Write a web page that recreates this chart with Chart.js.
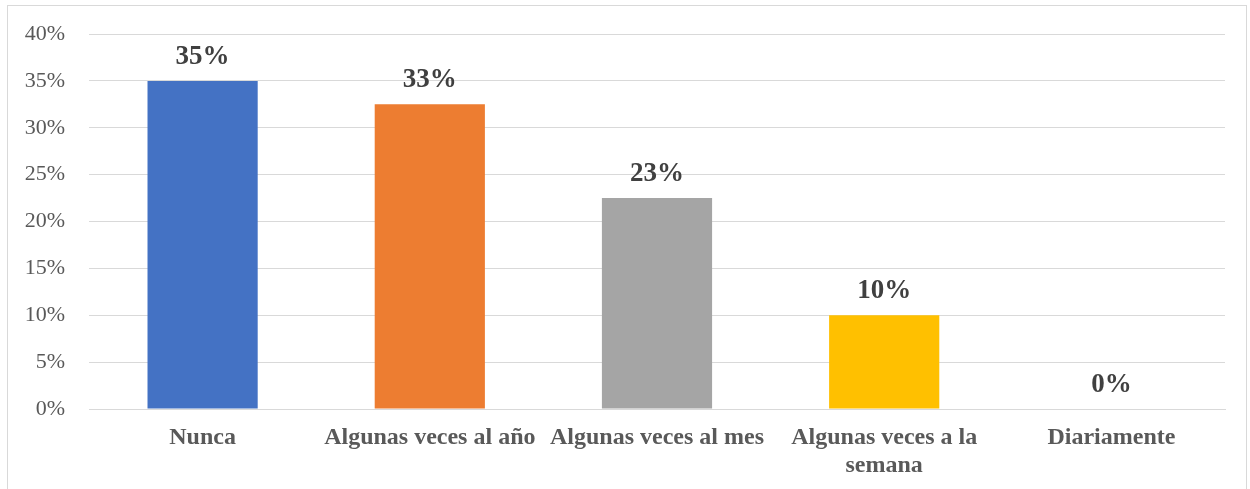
<!DOCTYPE html>
<html>
<head>
<meta charset="utf-8">
<script src="https://cdn.jsdelivr.net/npm/chart.js@4/dist/chart.umd.min.js"></script>
<style>
body{margin:0;background:#fff;}
#wrap{position:absolute;left:0;top:0;width:1250px;height:489px;}
#frame{position:absolute;left:7px;top:5px;width:1240px;height:490px;border:1px solid #d9d9d9;box-sizing:border-box;pointer-events:none;}
</style>
</head>
<body>
<div id="wrap"><canvas id="freqChart" width="1250" height="489"></canvas></div>
<div id="frame"></div>
<script>
const categories = ["Nunca", "Algunas veces al año", "Algunas veces al mes", ["Algunas veces a la", "semana"], "Diariamente"];
const percentValues = [35, 32.5, 22.5, 10, 0];
const barColors = ["#4472C4", "#ED7D31", "#A5A5A5", "#FFC000", "#5B9BD5"];
const yTicks = [0, 5, 10, 15, 20, 25, 30, 35, 40];

const serif = "'Times New Roman', 'Liberation Serif', serif";

// value labels above each bar, rounded like the original (32.5 -> 33%)
const barLabels = {
    id: "barLabels",
    afterDatasetsDraw(chart) {
        const ctx = chart.ctx;
        const meta = chart.getDatasetMeta(0);
        ctx.save();
        ctx.font = "bold 27px " + serif;
        ctx.fillStyle = "#404040";
        ctx.textAlign = "center";
        ctx.textBaseline = "alphabetic";
        meta.data.forEach((bar, i) => {
            ctx.fillText(Math.round(percentValues[i]) + "%", bar.x, bar.y - 17);
        });
        ctx.restore();
    }
};

const freqChart = new Chart(
document.getElementById("freqChart"),
{
    type:"bar",
    data:{
        labels:categories,
        datasets:[{
            data:percentValues,
            backgroundColor:barColors,
            categoryPercentage:1,
            barPercentage:0.485
        }]
    },
    options:{
        responsive:false,
        animation:false,
        layout:{padding:{top:34, right:25, left:0, bottom:0}},
        plugins:{legend:{display:false}, tooltip:{enabled:false}},
        scales:{
            x:{
                grid:{display:false, drawTicks:false},
                border:{display:true, color:"#d9d9d9", width:1},
                ticks:{
                    color:"#595959",
                    font:{family:serif, size:24, weight:"bold", lineHeight:1.15},
                    padding:15,
                    maxRotation:0,
                    autoSkip:false
                },
                afterFit(scale){ scale.height = 80; }
            },
            y:{
                min:0,
                max:40,
                afterBuildTicks(scale){ scale.ticks = yTicks.map(v => ({value:v})); },
                grid:{color:"#d9d9d9", lineWidth:1, drawTicks:false},
                border:{display:false},
                ticks:{
                    color:"#595959",
                    font:{family:serif, size:22},
                    padding:24,
                    callback:v => v + "%"
                },
                afterFit(scale){
                    scale.width = 89;
                    scale.paddingTop = 12;
                    scale.paddingBottom = 12;
                }
            }
        }
    },
    plugins:[barLabels]
});
</script>
</body>
</html>
